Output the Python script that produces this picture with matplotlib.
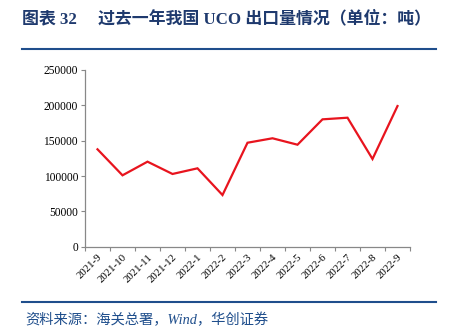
import matplotlib
matplotlib.use("Agg")
import matplotlib.pyplot as plt
from matplotlib.lines import Line2D

months = ["2021-9", "2021-10", "2021-11", "2021-12", "2022-1", "2022-2", "2022-3",
          "2022-4", "2022-5", "2022-6", "2022-7", "2022-8", "2022-9"]
export_tons = [137800, 101000, 120300, 102900, 110900, 73100, 147100,
               153400, 144300, 180200, 182500, 124100, 199000]
y_ticks = [0, 50000, 100000, 150000, 200000, 250000]

title = "图表 32　 过去一年我国 UCO 出口量情况（单位：吨）"
source = "资料来源：海关总署，Wind，华创证券"

plt.rcParams['font.family'] = ['Liberation Serif', 'Noto Sans CJK SC']

fig = plt.figure(figsize=(4.49, 3.33), dpi=100)
ax = fig.add_axes([85/449, 1 - 246.7/333, 325/449, 176.7/333])

x = list(range(len(months)))
ax.plot(x, export_tons, color="#e8141e", lw=1.6, solid_joinstyle="miter")
ax.set_xlim(-0.5, len(months) - 0.5)
ax.set_ylim(0, 250000)
ax.set_yticks(y_ticks)
ax.set_yticklabels([str(v) for v in y_ticks], fontsize=8.3)

# category ticks at boundaries, labels at centers
ax.set_xticks([i - 0.5 for i in range(len(months) + 1)])
ax.set_xticklabels([])
ax.set_xticks(x, minor=True)
ax.set_xticklabels(months, minor=True, rotation=45, ha="right", va="top",
                   fontsize=7.8, rotation_mode="anchor")
ax.tick_params(axis="x", which="minor", length=0, pad=4)
ax.tick_params(axis="x", which="major", length=3, color="#888888", direction="out")
ax.tick_params(axis="y", length=3, color="#888888", direction="out", pad=2)

for s in ["top", "right"]:
    ax.spines[s].set_visible(False)
for s in ["left", "bottom"]:
    ax.spines[s].set_color("#888888")
    ax.spines[s].set_linewidth(0.9)

blue = "#1f4e8c"
fig.text(22/449, 1 - 19/333, title, fontsize=12.2, fontweight="bold", color="#1f3a6e",
         va="center", ha="left", family=['Liberation Serif', 'Noto Sans CJK SC'])
fig.add_artist(Line2D([22/449, 436/449], [1 - 49/333, 1 - 49/333], color=blue, lw=1.5))
fig.add_artist(Line2D([22/449, 436/449], [1 - 302/333, 1 - 302/333], color=blue, lw=1.5))
fig.text(25/449, 1 - 320/333, source, fontsize=10.3, color=blue, va="center", ha="left",
         family=['Liberation Serif', 'Noto Sans CJK SC'], style="italic")

fig.savefig("out.png", dpi=100, facecolor="white")
